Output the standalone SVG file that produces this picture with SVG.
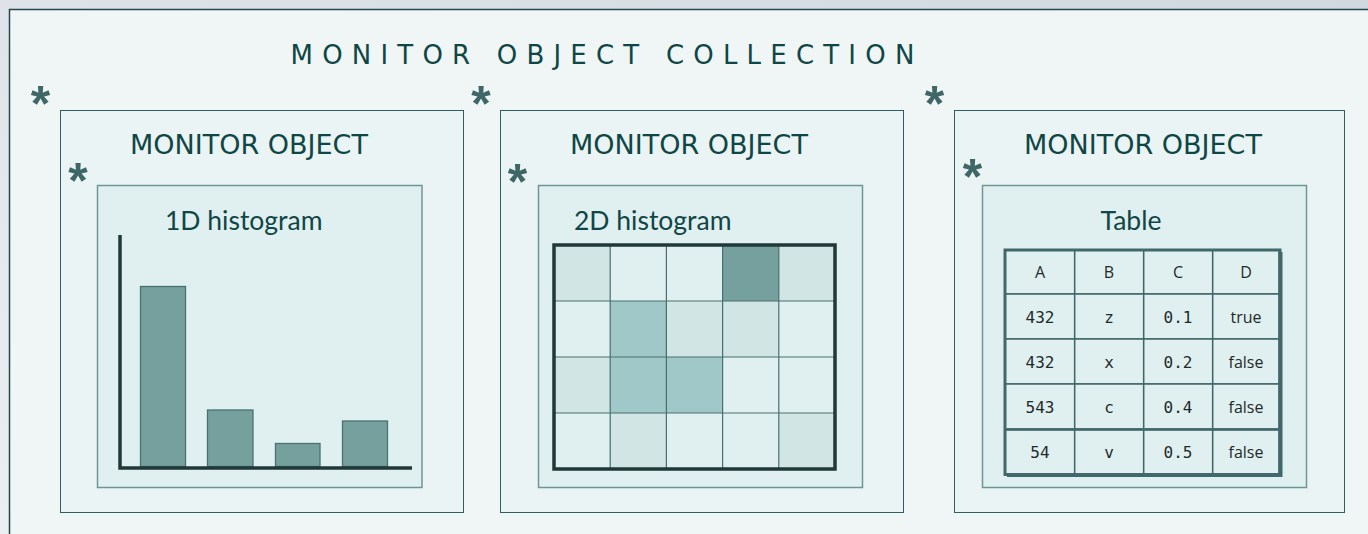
<svg xmlns="http://www.w3.org/2000/svg" width="1368" height="534" viewBox="0 0 1368 534">
  <defs>
    <linearGradient id="bg" x1="0" y1="1" x2="1" y2="0">
      <stop offset="0" stop-color="#eceef1"/>
      <stop offset="1" stop-color="#d2d7e0"/>
    </linearGradient>
    <style>
      .frame { fill: #f0f6f6; stroke: #1f4b4c; stroke-width: 1.5; }
      .mo { fill: #ebf4f4; stroke: #2f5f60; stroke-width: 1; }
      .inner { fill: #e0efef; stroke: #6d9696; stroke-width: 1.5; }
      .title { font-family: "DejaVu Sans", sans-serif; fill: #0f4646; }
      .main { font-size: 26px; letter-spacing: 9.2px; }
      .motitle { font-size: 27px; }
      .sub { font-family: Lato, "Open Sans", sans-serif; font-size: 26.5px; fill: #0f4646; }
      .star { font-family: "Liberation Sans", sans-serif; font-weight: bold; font-size: 50px; fill: #3f6767; text-anchor: middle; }
      .bar { fill: #76a09e; stroke: #4b7072; stroke-width: 1.3; }
      .axis { stroke: #213838; stroke-width: 3.5; fill: none; }
      .c0 { fill: #e0efef; }
      .c1 { fill: #d1e5e4; }
      .c2 { fill: #a0c8c8; }
      .c3 { fill: #76a09e; }
      .gridline { stroke: #46706f; stroke-width: 1.2; }
      .gridframe { fill: none; stroke: #213838; stroke-width: 3.5; }
      .cell { fill: #e0efef; stroke: #3f6668; stroke-width: 1.5; }
      .tframe { fill: none; stroke: #41686a; stroke-width: 3; }
      .tshadow { fill: none; stroke: #41686a; stroke-width: 2; }
      .mono { font-family: "DejaVu Sans Mono", monospace; font-size: 16px; fill: #1d2b2b; text-anchor: middle; }
      .prop { font-family: "Open Sans", sans-serif; font-size: 16px; fill: #1d2b2b; text-anchor: middle; }
    </style>
  </defs>

  <!-- page background -->
  <rect x="0" y="0" width="1368" height="534" fill="url(#bg)"/>

  <!-- collection frame -->
  <g id="collection">
    <rect class="frame" x="9.5" y="9.5" width="1400" height="600"/>
    <text class="title main" x="290.5" y="64">MONITOR OBJECT COLLECTION</text>
    <text class="star" x="40.5" y="121">*</text>
    <text class="star" x="481" y="121">*</text>
    <text class="star" x="934.5" y="121">*</text>
  </g>

  <!-- monitor object 1: 1D histogram -->
  <g id="mo-hist1d">
    <rect class="mo" x="60.5" y="110.5" width="403" height="402"/>
    <text class="title motitle" x="130" y="154">MONITOR OBJECT</text>
    <text class="star" x="78" y="198">*</text>
    <rect class="inner" x="97.5" y="185.5" width="324.5" height="302"/>
    <text class="sub" x="165" y="230">1D histogram</text>
    <rect class="bar" x="140.5" y="286.5" width="45" height="180"/>
    <rect class="bar" x="207.5" y="410" width="45.5" height="56.5"/>
    <rect class="bar" x="275.5" y="443.5" width="44.5" height="23"/>
    <rect class="bar" x="342.5" y="421" width="45" height="45.5"/>
    <polyline class="axis" points="120,235 120,468 412,468"/>
  </g>

  <!-- monitor object 2: 2D histogram -->
  <g id="mo-hist2d">
    <rect class="mo" x="500.5" y="110.5" width="403" height="402"/>
    <text class="title motitle" x="570" y="154">MONITOR OBJECT</text>
    <text class="star" x="517.5" y="199">*</text>
    <rect class="inner" x="538.5" y="185.5" width="324" height="302"/>
    <text class="sub" x="574" y="230">2D histogram</text>
    <!-- row 0 -->
    <rect class="c1" x="554" y="245" width="56.2" height="56"/>
    <rect class="c0" x="610.2" y="245" width="56.2" height="56"/>
    <rect class="c0" x="666.4" y="245" width="56.2" height="56"/>
    <rect class="c3" x="722.6" y="245" width="56.2" height="56"/>
    <rect class="c1" x="778.8" y="245" width="56.2" height="56"/>
    <!-- row 1 -->
    <rect class="c0" x="554" y="301" width="56.2" height="56"/>
    <rect class="c2" x="610.2" y="301" width="56.2" height="56"/>
    <rect class="c1" x="666.4" y="301" width="56.2" height="56"/>
    <rect class="c1" x="722.6" y="301" width="56.2" height="56"/>
    <rect class="c0" x="778.8" y="301" width="56.2" height="56"/>
    <!-- row 2 -->
    <rect class="c1" x="554" y="357" width="56.2" height="56"/>
    <rect class="c2" x="610.2" y="357" width="56.2" height="56"/>
    <rect class="c2" x="666.4" y="357" width="56.2" height="56"/>
    <rect class="c0" x="722.6" y="357" width="56.2" height="56"/>
    <rect class="c0" x="778.8" y="357" width="56.2" height="56"/>
    <!-- row 3 -->
    <rect class="c0" x="554" y="413" width="56.2" height="56"/>
    <rect class="c1" x="610.2" y="413" width="56.2" height="56"/>
    <rect class="c0" x="666.4" y="413" width="56.2" height="56"/>
    <rect class="c0" x="722.6" y="413" width="56.2" height="56"/>
    <rect class="c1" x="778.8" y="413" width="56.2" height="56"/>
    <g class="gridline">
      <line x1="610.2" y1="245" x2="610.2" y2="469"/>
      <line x1="666.4" y1="245" x2="666.4" y2="469"/>
      <line x1="722.6" y1="245" x2="722.6" y2="469"/>
      <line x1="778.8" y1="245" x2="778.8" y2="469"/>
      <line x1="554" y1="301" x2="835" y2="301"/>
      <line x1="554" y1="357" x2="835" y2="357"/>
      <line x1="554" y1="413" x2="835" y2="413"/>
    </g>
    <rect class="gridframe" x="554" y="245" width="281" height="224"/>
  </g>

  <!-- monitor object 3: table -->
  <g id="mo-table">
    <rect class="mo" x="954.5" y="110.5" width="390" height="402"/>
    <text class="title motitle" x="1024" y="154">MONITOR OBJECT</text>
    <text class="star" x="972.5" y="194">*</text>
    <rect class="inner" x="982.5" y="185.5" width="324" height="302"/>
    <text class="sub" x="1131" y="230" text-anchor="middle">Table</text>
    <!-- cells -->
    <g>
      <rect class="cell" x="1005" y="250" width="69.7" height="44"/>
      <rect class="cell" x="1074.7" y="250" width="69" height="44"/>
      <rect class="cell" x="1143.7" y="250" width="69" height="44"/>
      <rect class="cell" x="1212.7" y="250" width="66.3" height="44"/>
      <rect class="cell" x="1005" y="294" width="69.7" height="45"/>
      <rect class="cell" x="1074.7" y="294" width="69" height="45"/>
      <rect class="cell" x="1143.7" y="294" width="69" height="45"/>
      <rect class="cell" x="1212.7" y="294" width="66.3" height="45"/>
      <rect class="cell" x="1005" y="339" width="69.7" height="45"/>
      <rect class="cell" x="1074.7" y="339" width="69" height="45"/>
      <rect class="cell" x="1143.7" y="339" width="69" height="45"/>
      <rect class="cell" x="1212.7" y="339" width="66.3" height="45"/>
      <rect class="cell" x="1005" y="384" width="69.7" height="45"/>
      <rect class="cell" x="1074.7" y="384" width="69" height="45"/>
      <rect class="cell" x="1143.7" y="384" width="69" height="45"/>
      <rect class="cell" x="1212.7" y="384" width="66.3" height="45"/>
      <rect class="cell" x="1005" y="430" width="69.7" height="44"/>
      <rect class="cell" x="1074.7" y="430" width="69" height="44"/>
      <rect class="cell" x="1143.7" y="430" width="69" height="44"/>
      <rect class="cell" x="1212.7" y="430" width="66.3" height="44"/>
    </g>
    <line x1="1005" y1="429.3" x2="1280" y2="429.3" class="tshadow"/>
    <path class="tframe" d="M1005,250 L1280,250 L1280,474.5 L1005,474.5 Z"/>
    <path class="tshadow" d="M1281.5,252 L1281.5,476 L1007,476"/>
    <!-- header -->
    <text class="prop" x="1040" y="278">A</text>
    <text class="prop" x="1109" y="278">B</text>
    <text class="prop" x="1178" y="278">C</text>
    <text class="prop" x="1246" y="278">D</text>
    <!-- row 1 -->
    <text class="mono" x="1040" y="323">432</text>
    <text class="mono" x="1109" y="323">z</text>
    <text class="mono" x="1178" y="323">0.1</text>
    <text class="prop" x="1246" y="323">true</text>
    <!-- row 2 -->
    <text class="mono" x="1040" y="368">432</text>
    <text class="mono" x="1109" y="368">x</text>
    <text class="mono" x="1178" y="368">0.2</text>
    <text class="prop" x="1246" y="368">false</text>
    <!-- row 3 -->
    <text class="mono" x="1040" y="412.5">543</text>
    <text class="mono" x="1109" y="412.5">c</text>
    <text class="mono" x="1178" y="412.5">0.4</text>
    <text class="prop" x="1246" y="412.5">false</text>
    <!-- row 4 -->
    <text class="mono" x="1040" y="458">54</text>
    <text class="mono" x="1109" y="458">v</text>
    <text class="mono" x="1178" y="458">0.5</text>
    <text class="prop" x="1246" y="458">false</text>
  </g>

  <!-- no connectors in this diagram -->
  <g id="connectors"/>
</svg>
